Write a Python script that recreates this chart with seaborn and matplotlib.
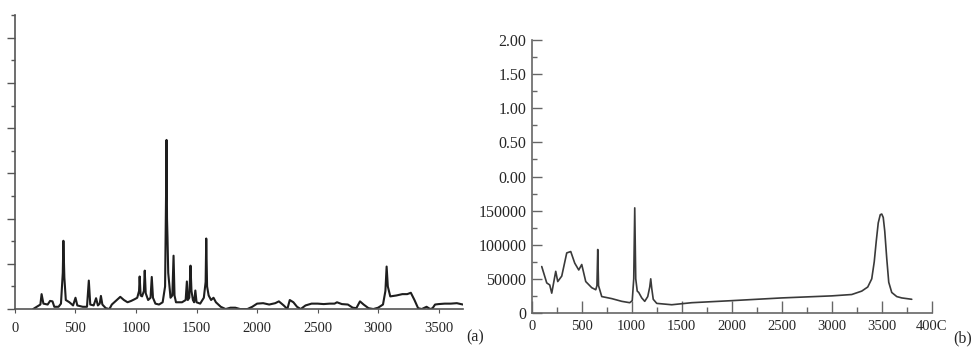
import matplotlib
matplotlib.use("Agg")
import matplotlib.pyplot as plt
import seaborn as sns
from matplotlib.ticker import MultipleLocator

# spectrum (a): wavenumber vs intensity (arbitrary units)
wave_a = [150, 180, 210, 220, 235, 270, 290, 310, 325, 360, 380, 395, 400, 408, 420,
          450, 480, 500, 515, 560, 595, 610, 622, 650, 670, 685, 700, 710, 722, 750,
          780, 800, 850, 870, 900, 930, 960, 990, 1010, 1025, 1030, 1038, 1050, 1065,
          1072, 1080, 1100, 1120, 1130, 1140, 1160, 1190, 1220, 1240, 1248, 1252, 1256,
          1260, 1266, 1285, 1300, 1310, 1318, 1330, 1380, 1410, 1420, 1428, 1440, 1450,
          1458, 1470, 1480, 1490, 1500, 1530, 1560, 1575, 1580, 1587, 1592, 1600, 1620,
          1640, 1660, 1700, 1740, 1780, 1820, 1860, 1920, 1960, 2000, 2050, 2100, 2150,
          2180, 2220, 2250, 2270, 2300, 2330, 2360, 2400, 2450, 2500, 2550, 2600, 2640,
          2660, 2700, 2750, 2790, 2820, 2850, 2880, 2920, 2960, 3000, 3040, 3060, 3070,
          3080, 3100, 3150, 3200, 3240, 3270, 3300, 3330, 3360, 3400, 3430, 3450, 3470,
          3500, 3550, 3600, 3650, 3700]
inten_a = [0.0, 0.05, 0.1, 0.33, 0.12, 0.1, 0.18, 0.17, 0.05, 0.05, 0.12, 0.8, 1.51, 0.7, 0.2,
           0.15, 0.08, 0.25, 0.08, 0.05, 0.05, 0.63, 0.1, 0.08, 0.24, 0.08, 0.12, 0.29, 0.1, 0.02,
           0.0, 0.1, 0.22, 0.27, 0.2, 0.15, 0.18, 0.22, 0.25, 0.4, 0.72, 0.3, 0.28, 0.4,
           0.85, 0.35, 0.2, 0.25, 0.71, 0.25, 0.12, 0.1, 0.15, 0.5, 2.5, 3.74, 2.0,
           1.58, 0.8, 0.25, 0.3, 1.18, 0.3, 0.15, 0.15, 0.2, 0.61, 0.2, 0.25, 0.96,
           0.4, 0.2, 0.15, 0.41, 0.15, 0.12, 0.25, 0.6, 1.56, 0.5, 0.42, 0.3, 0.2,
           0.25, 0.15, 0.05, 0.0, 0.03, 0.03, 0.0, 0.0, 0.05, 0.12, 0.13, 0.1, 0.13,
           0.17, 0.08, 0.0, 0.2, 0.15, 0.05, 0.0, 0.08, 0.12, 0.12, 0.11, 0.12, 0.12,
           0.15, 0.11, 0.1, 0.03, 0.02, 0.17, 0.1, 0.02, 0.0, 0.03, 0.1, 0.4, 0.94,
           0.5, 0.28, 0.3, 0.33, 0.33, 0.36, 0.2, 0.02, 0.0, 0.05, 0.0, 0.02, 0.1,
           0.11, 0.12, 0.12, 0.13, 0.1]

# spectrum (b)
wave_b = [100, 150, 180, 200, 240, 260, 300, 350, 390, 430, 470, 500, 540, 600, 640, 652,
          660, 668, 680, 700, 800, 900, 980, 1005, 1020, 1030, 1040, 1055, 1070, 1100, 1130,
          1160, 1180, 1190, 1200, 1215, 1250, 1400, 1600, 2000, 2500, 3000, 3200, 3300, 3360,
          3400, 3425, 3445, 3465, 3485, 3500, 3515, 3530, 3550, 3570, 3600, 3650, 3700, 3800]
inten_b = [68000, 44000, 41000, 29000, 61000, 46000, 54000, 88000, 90000, 73000, 63000, 71000,
           46000, 37000, 34000, 40000, 93000, 40000, 34000, 24000, 21000, 17000, 15000, 18000,
           50000, 154000, 50000, 32000, 30000, 22000, 17000, 24000, 38000, 50000, 36000, 20000,
           14000, 12000, 15000, 18000, 22000, 25000, 27000, 32000, 38000, 50000, 75000, 105000,
           132000, 144000, 145000, 140000, 120000, 80000, 45000, 30000, 24000, 22000, 20000]

yticks_b = [0, 50000, 100000, 150000, 200000, 250000, 300000, 350000, 400000]
ytick_labels_b = ["0", "50000", "100000", "150000", "0.00", "0.50", "1.00", "1.50", "2.00"]
xticks = [0, 500, 1000, 1500, 2000, 2500, 3000, 3500]
xticks_b = xticks + [4000]
xtick_labels_b = [str(v) for v in xticks] + ["400C"]

sns.set_style("ticks")
plt.rcParams["font.family"] = ["Liberation Serif", "DejaVu Serif"]
plt.rcParams["font.size"] = 10

fig = plt.figure(figsize=(9.78, 3.52), dpi=100)

# panel (a)
ax1 = fig.add_axes([0.0153, 0.122, 0.458, 0.835])
sns.lineplot(x=wave_a, y=inten_a, ax=ax1, color="#1e1e1e", linewidth=1.5)
ax1.set_xlim(0, 3700)
ax1.set_ylim(0, 6.5)
ax1.set_xticks(xticks)
ax1.yaxis.set_major_locator(MultipleLocator(1))
ax1.yaxis.set_minor_locator(MultipleLocator(0.5))
ax1.set_yticklabels([])
ax1.tick_params(axis="y", which="major", direction="out", length=6, width=1, color="#555")
ax1.tick_params(axis="y", which="minor", direction="out", length=3, width=1, color="#555")
ax1.tick_params(axis="x", direction="out", length=3, color="#555", pad=6, labelsize=10.5)
for s in ["top", "right"]:
    ax1.spines[s].set_visible(False)
for s in ["left", "bottom"]:
    ax1.spines[s].set_color("#555")
    ax1.spines[s].set_linewidth(1.2)
fig.text(466 / 978, 1 - 337 / 352, "(a)", fontsize=11.5, va="center", ha="left")

# panel (b)
ax2 = fig.add_axes([0.5437, 0.111, 0.409, 0.775])
sns.lineplot(x=wave_b, y=inten_b, ax=ax2, color="#3a3a3a", linewidth=1.2)
ax2.set_xlim(0, 4000)
ax2.set_ylim(0, 400000)
ax2.set_yticks(yticks_b)
ax2.set_yticklabels(ytick_labels_b)
ax2.yaxis.set_minor_locator(MultipleLocator(25000))
ax2.set_xticks(xticks_b)
ax2.set_xticklabels(xtick_labels_b)
ax2.xaxis.set_minor_locator(MultipleLocator(250))
ax2.tick_params(axis="y", which="major", direction="in", length=7.5, width=1, color="#666",
                pad=4, labelsize=11.5)
ax2.tick_params(axis="y", which="minor", direction="in", length=3.8, width=1, color="#666")
ax2.tick_params(axis="x", which="major", direction="in", length=8.5, width=1, color="#666",
                pad=5, labelsize=10.5)
ax2.tick_params(axis="x", which="minor", direction="in", length=4, width=1, color="#666")
for s in ["top", "right"]:
    ax2.spines[s].set_visible(False)
for s in ["left", "bottom"]:
    ax2.spines[s].set_color("#666")
    ax2.spines[s].set_linewidth(1.2)
fig.text(953 / 978, 1 - 338 / 352, "(b)", fontsize=11.5, va="center", ha="left")

fig.savefig("out.png", dpi=100)
